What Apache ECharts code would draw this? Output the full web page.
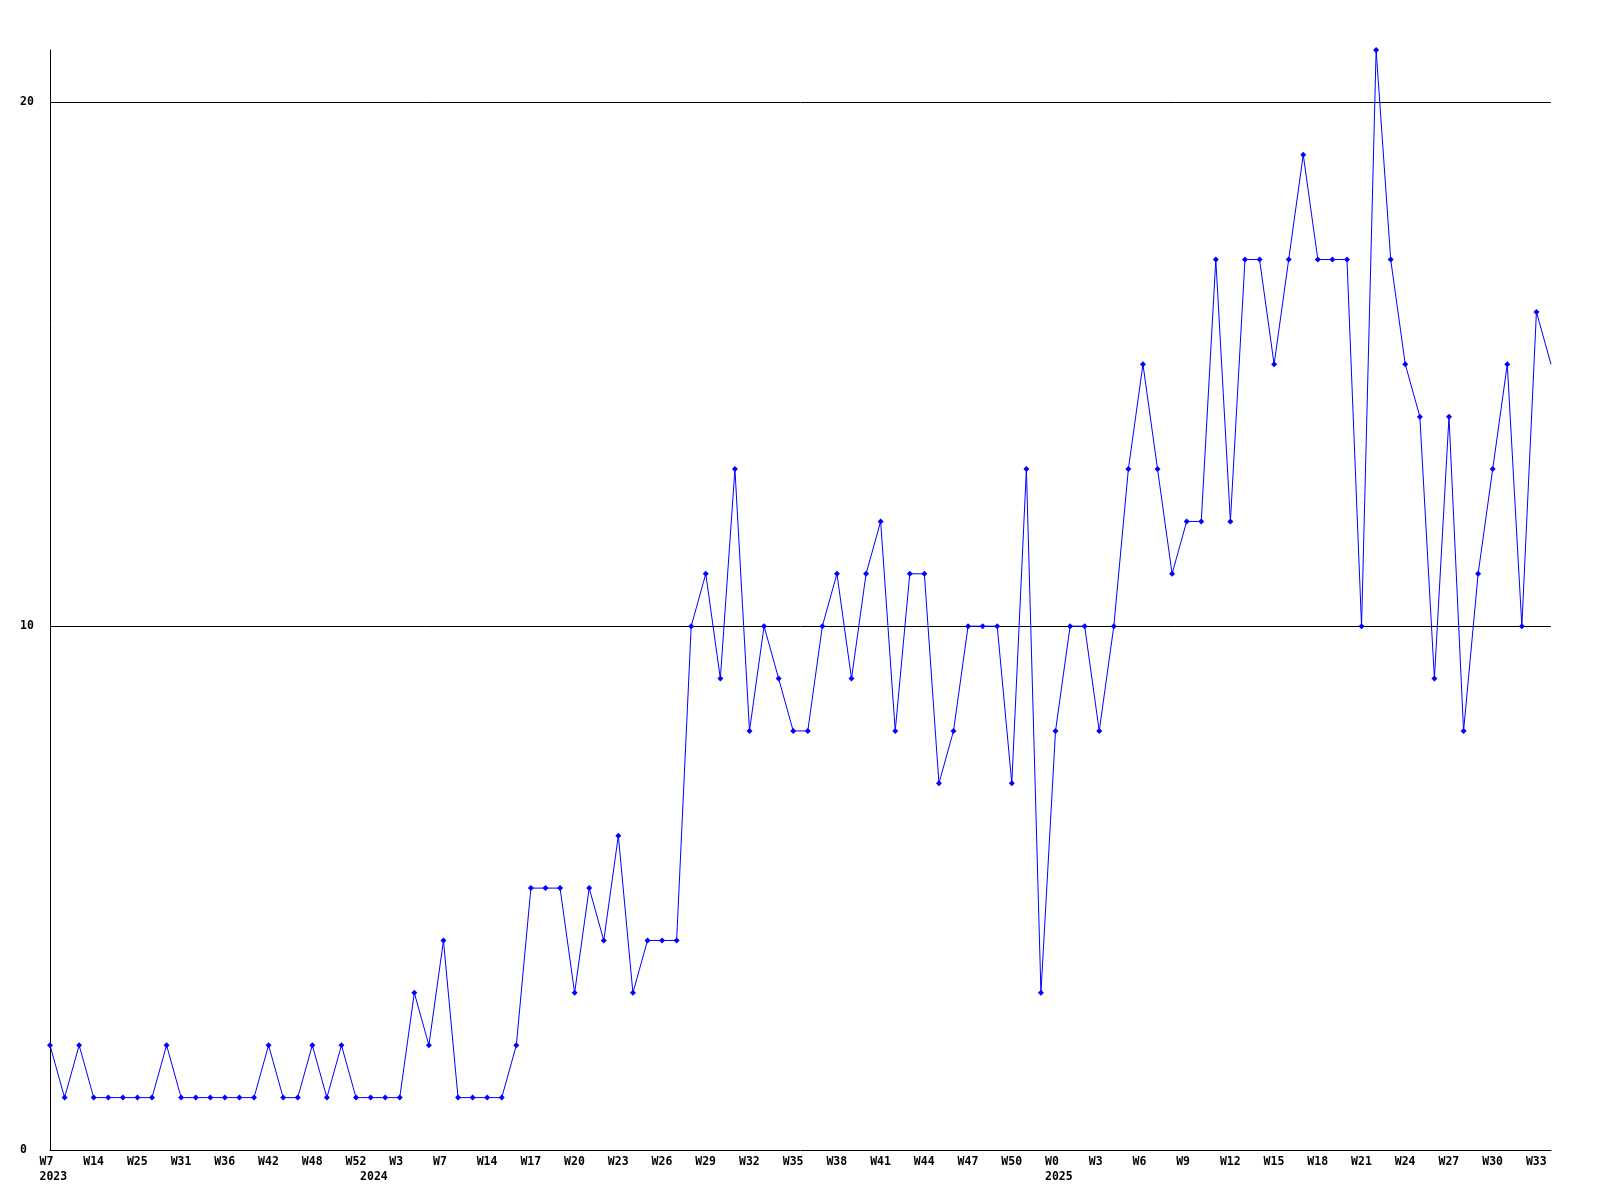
<!DOCTYPE html>
<html>
<head>
<meta charset="utf-8">
<script src="https://cdn.jsdelivr.net/npm/echarts@6/dist/echarts.min.js"></script>
<style>
  html, body { margin: 0; padding: 0; background: #fff; }
  #chart { width: 1600px; height: 1200px; }
</style>
</head>
<body>
<div id="chart"></div>
<script>
// Categories (year-week)
const weeks2023 = ['W7','W9','W11','W14','W17','W21','W25','W27','W29','W31','W33','W35','W36','W38','W40','W42','W44','W46','W48','W49','W51','W52'];
const weeks2024 = ['W1','W2','W3','W5','W6','W7','W9','W11','W14','W15','W16','W17','W18','W19','W20','W21','W22','W23','W24','W25','W26','W27','W28','W29','W30','W31','W32','W33','W34','W35','W36','W37','W38','W39','W40','W41','W42','W43','W44','W45','W46','W47','W48','W49','W50','W51','W52'];
const weeks2025 = ['W0','W1','W2','W3','W4','W5','W6','W7','W8','W9','W10','W11','W12','W13','W14','W15','W16','W17','W18','W19','W20','W21','W22','W23','W24','W25','W26','W27','W28','W29','W30','W31','W32','W33','W34'];

// Series values
const values2023 = [2,1,2,1,1,1,1,1,2,1,1,1,1,1,1,2,1,1,2,1,2,1];
const values2024 = [1,1,1,3,2,4,1,1,1,1,2,5,5,5,3,5,4,6,3,4,4,4,10,11,9,13,8,10,9,8,8,10,11,9,11,12,8,11,11,7,8,10,10,10,7,13,3];
const values2025 = [8,10,10,8,10,13,15,13,11,12,12,17,12,17,17,15,17,19,17,17,17,10,21,17,15,14,9,14,8,11,13,15,10,16,15];

// Y axis
const yMin = 0, yMax = 21, yStep = 10;

const categories = []
  .concat(weeks2023.map(w => '2023-' + w))
  .concat(weeks2024.map(w => '2024-' + w))
  .concat(weeks2025.map(w => '2025-' + w));
const values = values2023.concat(values2024, values2025);

const FONT = "'DejaVu Sans Mono', 'Liberation Mono', monospace";

function isYearStart(i) {
  if (i === 0) return true;
  return categories[i].split('-')[0] !== categories[i - 1].split('-')[0];
}

const chart = echarts.init(document.getElementById('chart'), null, { renderer: 'canvas' });
chart.setOption({
  animation: false,
  backgroundColor: '#ffffff',
  grid: { left: 50, right: 49, top: 50, bottom: 50, containLabel: false },
  xAxis: {
    type: 'category',
    data: categories,
    boundaryGap: false,
    axisLine: { show: true, lineStyle: { color: '#000', width: 1 } },
    axisTick: { show: false },
    splitLine: { show: false },
    axisLabel: {
      interval: (i) => i % 3 === 0 || isYearStart(i),
      margin: 5,
      formatter: (value, index) => {
        const parts = value.split('-');
        const wk = index % 3 === 0 ? parts[1] : ' ';
        let s = '{w|' + wk + '}';
        if (isYearStart(index)) s += '\n{w|' + parts[0] + '}';
        return s;
      },
      rich: {
        w: {
          width: 21, align: 'left',
          fontFamily: FONT, fontSize: 11.5, fontWeight: 'bold',
          color: '#000', lineHeight: 15
        }
      }
    }
  },
  yAxis: {
    type: 'value',
    min: yMin, max: yMax, interval: yStep,
    axisLine: { show: true, lineStyle: { color: '#000', width: 1 } },
    axisTick: { show: false },
    splitLine: { show: true, showMinLine: false, showMaxLine: false, lineStyle: { color: '#000', width: 1 } },
    axisLabel: {
      showMaxLabel: false,
      align: 'left', margin: 30,
      padding: [3, 0, 0, 0],
      fontFamily: FONT, fontSize: 11.5, fontWeight: 'bold', color: '#000'
    }
  },
  series: [{
    type: 'line',
    data: values,
    showAllSymbol: true,
    symbol: (v, p) => p.dataIndex === values.length - 1 ? 'none' : 'diamond',
    symbolSize: 6,
    itemStyle: { color: '#0000ff' },
    lineStyle: { color: '#0000ff', width: 1 },
    emphasis: { disabled: true }
  }]
});
</script>
</body>
</html>
